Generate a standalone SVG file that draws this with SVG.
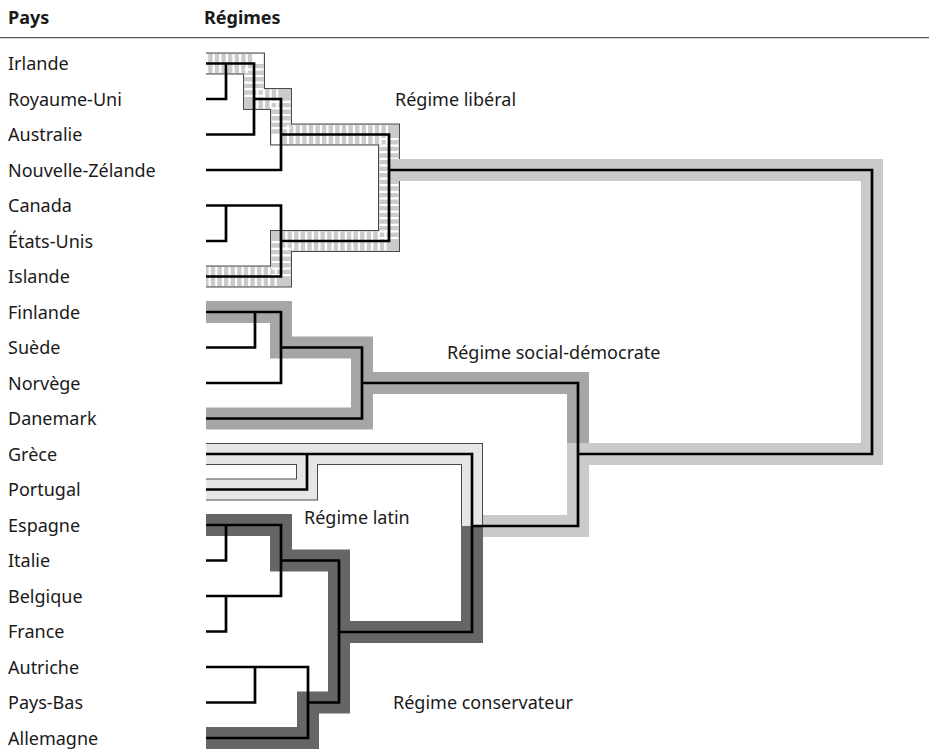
<svg xmlns="http://www.w3.org/2000/svg" width="929" height="750" viewBox="0 0 929 750">
<style>
text{font-family:"Noto Sans","Open Sans","DejaVu Sans",sans-serif;font-size:18px;fill:#1a1a1a}
.h{font-weight:bold}
.band{fill:none;stroke-linejoin:miter;stroke-linecap:butt}
.ol{stroke:#4a4a4a;stroke-width:22}
.lib{stroke:#cbcbcb;stroke-width:20}
.stripe{stroke:#ffffff;stroke-width:19;stroke-dasharray:2.2 4.4}
.soc{stroke:#a6a6a6;stroke-width:22}
.lat{stroke:#e6e6e6;stroke-width:20}
.con{stroke:#666666;stroke-width:22}
.root{stroke:#cacaca;stroke-width:22}
.ln{fill:none;stroke:#000;stroke-width:2.7;stroke-linejoin:miter;stroke-linecap:butt}
</style>
<defs>
<path id="pLib" d="M206,63.5 H254 V99 H281 V134.5 H389 V241 H281 V276.5 H206"/>
<path id="pLat" d="M206,454 H472 V526 M206,489.5 H307 V454"/>
</defs>
<g id="header">
<text class="h" x="8" y="24">Pays</text>
<text class="h" x="204" y="24">Régimes</text>
<line x1="0" y1="37.7" x2="929" y2="37.7" stroke="#555" stroke-width="1.3"/>
</g>
<g id="countries">
<text x="8" y="70">Irlande</text>
<text x="8" y="105.5">Royaume-Uni</text>
<text x="8" y="141">Australie</text>
<text x="8" y="176.5">Nouvelle-Zélande</text>
<text x="8" y="212">Canada</text>
<text x="8" y="247.5">États-Unis</text>
<text x="8" y="283">Islande</text>
<text x="8" y="318.5">Finlande</text>
<text x="8" y="354">Suède</text>
<text x="8" y="389.5">Norvège</text>
<text x="8" y="425">Danemark</text>
<text x="8" y="460.5">Grèce</text>
<text x="8" y="496">Portugal</text>
<text x="8" y="531.5">Espagne</text>
<text x="8" y="567">Italie</text>
<text x="8" y="602.5">Belgique</text>
<text x="8" y="638">France</text>
<text x="8" y="673.5">Autriche</text>
<text x="8" y="709">Pays-Bas</text>
<text x="8" y="744.5">Allemagne</text>
</g>
<g id="bands">
<g id="band-social">
<path class="band soc" d="M206,312 H281 V347.5 H362 V418.5 H206 M362,383 H578 V454"/>
</g>
<g id="band-liberal">
<use href="#pLib" class="band ol"/>
<use href="#pLib" class="band lib"/>
<use href="#pLib" class="band stripe"/>
</g>
<g id="band-root">
<path class="band root" d="M390,170 H872 V454 H578 V526 H482"/>
</g>
<g id="band-latin">
<use href="#pLat" class="band ol"/>
<use href="#pLat" class="band lat"/>
</g>
<g id="band-conservative">
<path class="band con" d="M206,525 H281 V560.5 H339 V702.5 H308 V738 H206 M339,632 H472 V526"/>
</g>
</g>
<g id="connectors">
<path class="ln" d="M206,63.5 H254 V134.5 H206"/>
<path class="ln" d="M206,99 H226 V63.5"/>
<path class="ln" d="M254,99 H281 V170 H206"/>
<path class="ln" d="M281,134.5 H389 V241 H281"/>
<path class="ln" d="M206,205.5 H281 V276.5 H206"/>
<path class="ln" d="M206,241 H226 V205.5"/>
<path class="ln" d="M389,170 H872 V454 H578"/>
<path class="ln" d="M206,312 H281 V383 H206"/>
<path class="ln" d="M206,347.5 H255 V312"/>
<path class="ln" d="M281,347.5 H362 V418.5 H206"/>
<path class="ln" d="M362,383 H578 V526 H472"/>
<path class="ln" d="M206,454 H472 V632 H339"/>
<path class="ln" d="M206,489.5 H307 V454"/>
<path class="ln" d="M206,525 H281 V596 H206"/>
<path class="ln" d="M206,560.5 H226 V525"/>
<path class="ln" d="M206,631.5 H226 V596"/>
<path class="ln" d="M281,560.5 H339 V702.5 H308"/>
<path class="ln" d="M206,667 H308 V738 H206"/>
<path class="ln" d="M206,702.5 H255 V667"/>
</g>
<g id="labels">
<text x="395" y="106">Régime libéral</text>
<text x="447" y="359">Régime social-démocrate</text>
<text x="304" y="524">Régime latin</text>
<text x="393" y="709">Régime conservateur</text>
</g>
</svg>
